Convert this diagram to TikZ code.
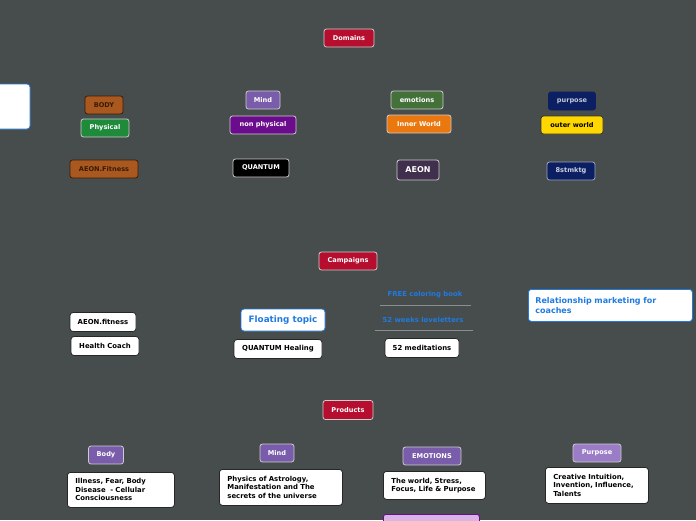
\documentclass[tikz,border=0pt]{standalone}
\usepackage{fontspec}
\setmainfont{DejaVu Sans}
\usetikzlibrary{positioning}
\definecolor{canvas}{HTML}{474C4C}
\definecolor{crimson}{HTML}{B50E2E}
\definecolor{rust}{HTML}{A9581F}
\definecolor{rustdark}{HTML}{3A1C05}
\definecolor{leaf}{HTML}{1E8A3A}
\definecolor{moss}{HTML}{44703A}
\definecolor{lavender}{HTML}{7A5DAA}
\definecolor{lilac}{HTML}{9B7CC6}
\definecolor{plum}{HTML}{6A0C8C}
\definecolor{aubergine}{HTML}{41304D}
\definecolor{tangerine}{HTML}{EA780F}
\definecolor{navy}{HTML}{0B1F62}
\definecolor{gold}{HTML}{FFD700}
\definecolor{link}{HTML}{1F7BE0}
\definecolor{pinkish}{HTML}{D8B4E4}
\definecolor{rule}{HTML}{8A8E8E}

\begin{document}
\begin{tikzpicture}[x=1pt,y=-1pt,
  topic/.style={draw=white!80!black, line width=0.8pt, rounded corners=2.5pt,
    minimum height=18pt, inner sep=1pt, text=white,
    font=\bfseries\fontsize{6.6}{7}\selectfont},
  root/.style={topic, fill=crimson},
  dark/.style={topic, draw=rustdark, fill=rust, text=rustdark},
  leafnote/.style={draw=black!85, line width=0.8pt, fill=white, rounded corners=3pt,
    text=black, minimum height=19pt, inner sep=1pt,
    font=\bfseries\fontsize{6.9}{7}\selectfont},
  textbox/.style={leafnote, align=left, anchor=north west, inner xsep=8pt, inner ysep=5pt,
    font=\bfseries\fontsize{6.9}{8.5}\selectfont},
  floating/.style={draw=link, line width=0.8pt, fill=white, rounded corners=3pt, text=link,
    font=\bfseries\fontsize{8.8}{10}\selectfont},
  label/.style={text=link, font=\bfseries\fontsize{6.9}{7}\selectfont}]

  \clip (0,0) rectangle (696,520);
  \fill[canvas] (0,0) rectangle (696,520);

  % Domains
  \node[root, minimum width=50pt] (domains) at (349,38) {Domains};

  \node[dark, minimum width=38pt] (body) at (104,105) {BODY};
  \node[topic, fill=leaf, minimum width=48pt] (physical) at (105,128) {Physical};
  \node[dark, minimum width=68pt] (aeonfit) at (104,169) {AEON.Fitness};

  \node[topic, fill=lavender, minimum width=34pt] (mind) at (263,100) {Mind};
  \node[topic, fill=plum, minimum width=66pt] (nonphys) at (263,125) {non physical};
  \node[topic, fill=black, minimum width=56pt] (quantum) at (261,168) {QUANTUM};

  \node[topic, fill=moss, minimum width=52pt] (emotions) at (417,100) {emotions};
  \node[topic, fill=tangerine, minimum width=64pt] (inner) at (419,124) {Inner World};
  \node[topic, fill=aubergine, minimum width=42pt, minimum height=20pt,
    font=\bfseries\fontsize{8}{8}\selectfont] (aeon) at (418,170) {AEON};

  \node[topic, draw=navy, fill=navy, text=white!75!navy, minimum width=47pt] (purpose) at (572,101) {purpose};
  \node[topic, draw=black!80, fill=gold, text=black, minimum width=62pt] (outer) at (572,125) {outer world};
  \node[topic, draw=white!60!navy, fill=navy, text=white!80!navy, minimum width=48pt] (stmktg) at (571,171) {8stmktg};

  \node[floating, minimum width=60pt, minimum height=45pt] (cutoff) at (0,106.5) {};

  % Campaigns
  \node[root, minimum width=58pt] (campaigns) at (348,261) {Campaigns};

  \node[leafnote, minimum width=66pt] (aeonfitness) at (103,322) {AEON.fitness};
  \node[leafnote, minimum width=68pt] (coach) at (105,346) {Health Coach};

  \node[floating, minimum width=84pt, minimum height=22pt] (floattopic) at (283,320) {Floating topic};
  \node[leafnote, minimum width=88pt] (healing) at (278,349) {QUANTUM Healing};

  \node[label] (coloring) at (425,295) {FREE coloring book};
  \draw[rule, line width=1pt] (380,305) -- (471,305);
  \node[label] (loveletters) at (423,320) {52 weeks loveletters};
  \draw[rule, line width=1pt] (375,330) -- (473,330);
  \node[leafnote, minimum width=74pt] (meditations) at (422,348) {52 meditations};

  \node[floating, anchor=north west, text width=150pt, align=left, minimum height=32pt,
    inner xsep=7pt, font=\bfseries\fontsize{8}{10}\selectfont] (coaches) at (528,289)
    {Relationship marketing for\\coaches};

  % Products
  \node[root, minimum width=50pt, minimum height=19pt] (products) at (348,410) {Products};

  \node[topic, fill=lavender, minimum width=35pt] (pbody) at (106,455) {Body};
  \node[topic, fill=lavender, minimum width=34pt] (pmind) at (277,453) {Mind};
  \node[topic, fill=lavender, minimum width=58pt] (pemotions) at (432,456) {EMOTIONS};
  \node[topic, fill=lilac, minimum width=48pt] (ppurpose) at (597,453) {Purpose};

  \node[textbox, text width=91pt, minimum height=35pt] (illness) at (67,472)
    {Illness, Fear, Body\\Disease \ - Cellular\\Consciousness};
  \node[textbox, text width=107pt, minimum height=36pt] (physics) at (219,469)
    {Physics of Astrology,\\Manifestation and The\\secrets of the universe};
  \node[textbox, text width=86pt, minimum height=28pt] (world) at (383,471)
    {The world, Stress,\\Focus, Life \& Purpose};
  \node[textbox, text width=87pt, minimum height=36pt] (creative) at (545,467)
    {Creative Intuition,\\Invention, Influence,\\Talents};

  \node[topic, draw=plum, fill=pinkish, minimum width=96pt, minimum height=20pt,
    anchor=north west] (pinkbox) at (383,514) {};
\end{tikzpicture}
\end{document}
